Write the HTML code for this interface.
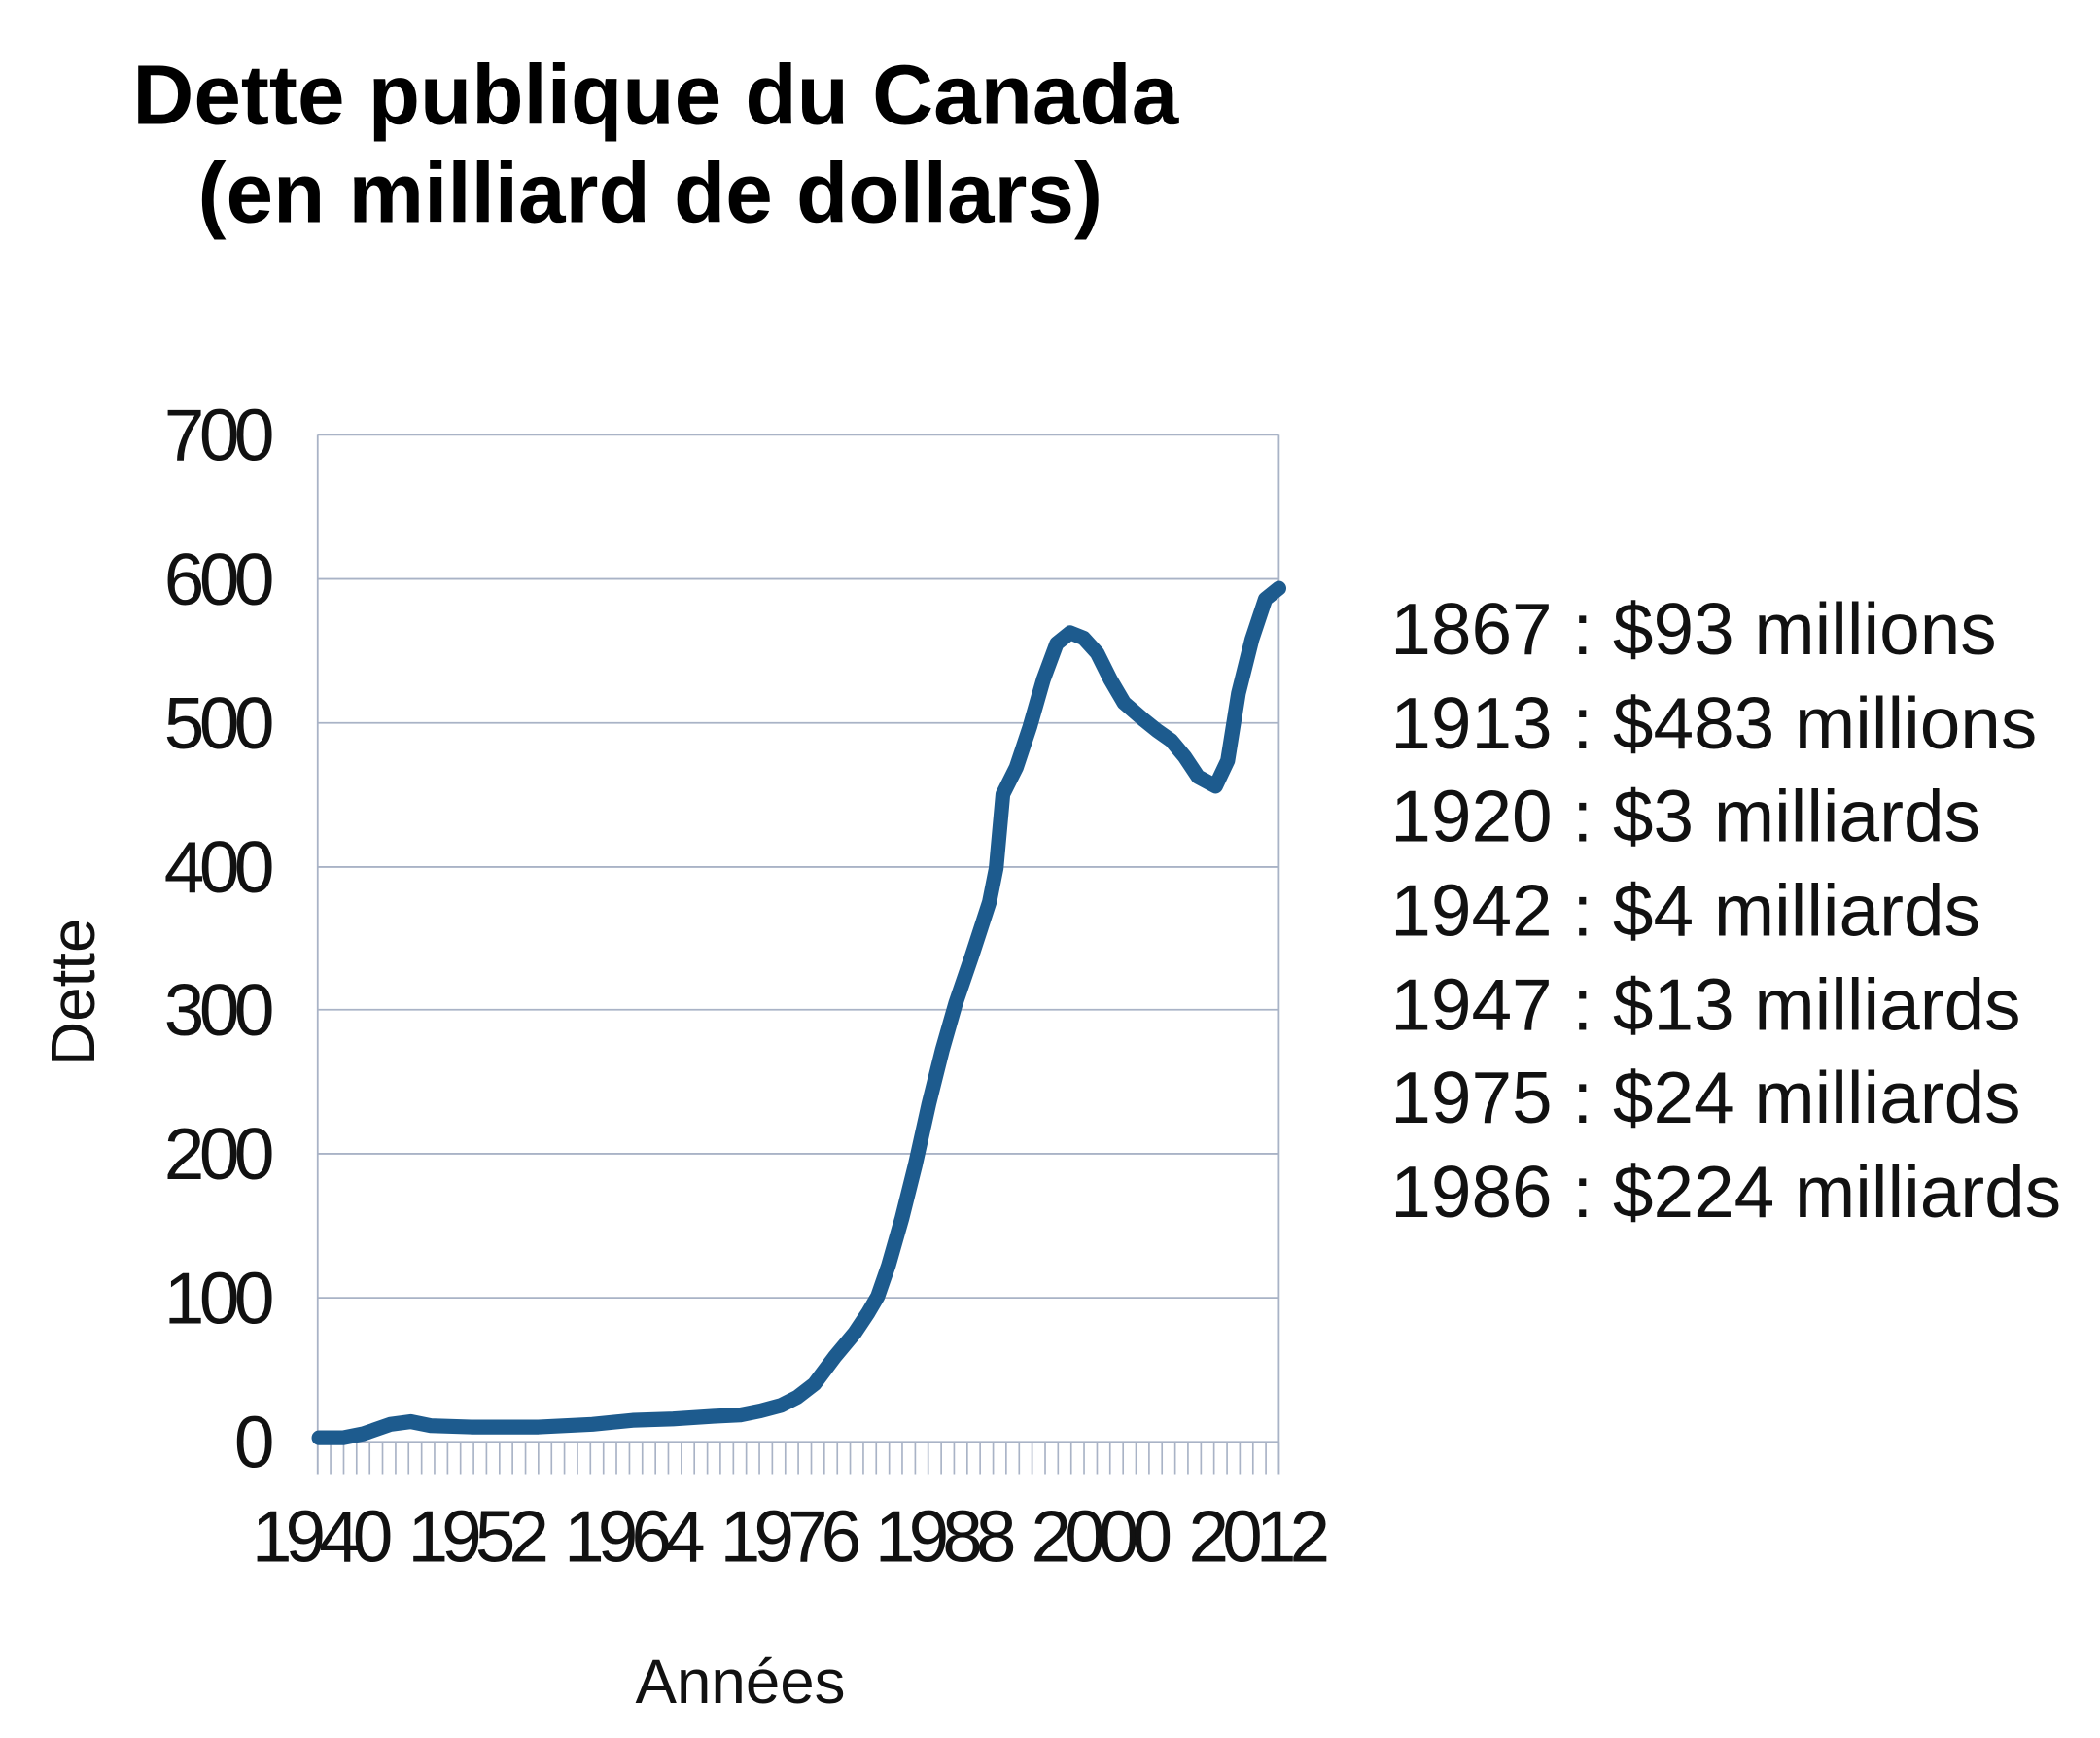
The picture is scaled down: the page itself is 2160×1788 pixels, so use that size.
<!DOCTYPE html>
<html><head><meta charset="utf-8"><style>html,body{margin:0;padding:0;background:#fff}svg{display:block}</style></head><body>
<svg width="2160" height="1788" viewBox="0 0 1560 1291" preserveAspectRatio="none" xmlns="http://www.w3.org/2000/svg" font-family="Liberation Sans, sans-serif">
<rect width="1560" height="1291" fill="#fff"/>
<text x="487" y="92" font-size="63" font-weight="bold" text-anchor="middle" fill="#000">Dette publique du Canada</text>
<text x="483" y="165" font-size="63" font-weight="bold" text-anchor="middle" fill="#000">(en milliard de dollars)</text>
<g stroke="#a9b3c6" stroke-width="1.3">
<line x1="236" y1="323" x2="950" y2="323"/><line x1="236" y1="430" x2="950" y2="430"/><line x1="236" y1="537" x2="950" y2="537"/><line x1="236" y1="644" x2="950" y2="644"/><line x1="236" y1="750" x2="950" y2="750"/><line x1="236" y1="857" x2="950" y2="857"/><line x1="236" y1="964" x2="950" y2="964"/><line x1="236" y1="1071" x2="950" y2="1071"/>
<line x1="236" y1="323" x2="236" y2="1095"/><line x1="950" y1="323" x2="950" y2="1095"/>
</g>
<path stroke="#a9b3c6" stroke-width="1.2" d="M236 1071V1095M245.6 1071V1095M255.3 1071V1095M264.9 1071V1095M274.6 1071V1095M284.2 1071V1095M293.9 1071V1095M303.5 1071V1095M313.2 1071V1095M322.8 1071V1095M332.5 1071V1095M342.1 1071V1095M351.8 1071V1095M361.4 1071V1095M371.1 1071V1095M380.7 1071V1095M390.4 1071V1095M400 1071V1095M409.7 1071V1095M419.3 1071V1095M429 1071V1095M438.6 1071V1095M448.3 1071V1095M457.9 1071V1095M467.6 1071V1095M477.2 1071V1095M486.9 1071V1095M496.5 1071V1095M506.2 1071V1095M515.8 1071V1095M525.5 1071V1095M535.1 1071V1095M544.8 1071V1095M554.4 1071V1095M564.1 1071V1095M573.7 1071V1095M583.4 1071V1095M593 1071V1095M602.7 1071V1095M612.3 1071V1095M622 1071V1095M631.6 1071V1095M641.3 1071V1095M650.9 1071V1095M660.6 1071V1095M670.2 1071V1095M679.9 1071V1095M689.5 1071V1095M699.2 1071V1095M708.8 1071V1095M718.5 1071V1095M728.1 1071V1095M737.8 1071V1095M747.4 1071V1095M757.1 1071V1095M766.7 1071V1095M776.4 1071V1095M786 1071V1095M795.7 1071V1095M805.3 1071V1095M815 1071V1095M824.6 1071V1095M834.3 1071V1095M843.9 1071V1095M853.6 1071V1095M863.2 1071V1095M872.9 1071V1095M882.5 1071V1095M892.2 1071V1095M901.8 1071V1095M911.5 1071V1095M921.1 1071V1095M930.8 1071V1095M940.4 1071V1095M950 1071V1095"/>
<g font-size="54" text-anchor="end" fill="#111" letter-spacing="-4">
<text x="200" y="342">700</text><text x="200" y="449">600</text><text x="200" y="556">500</text><text x="200" y="663">400</text><text x="200" y="769">300</text><text x="200" y="876">200</text><text x="200" y="983">100</text><text x="200" y="1090">0</text>
</g>
<g font-size="54" text-anchor="middle" fill="#111" letter-spacing="-5">
<text x="237" y="1160">1940</text><text x="353" y="1160">1952</text><text x="469" y="1160">1964</text><text x="585" y="1160">1976</text><text x="700" y="1160">1988</text><text x="816" y="1160">2000</text><text x="933" y="1160">2012</text>
</g>
<text x="550" y="1265" font-size="46" text-anchor="middle" fill="#111">Années</text>
<text transform="translate(70,737) rotate(-90)" font-size="46" text-anchor="middle" fill="#111">Dette</text>
<g font-size="54" fill="#111">
<text x="1033" y="486">1867 : $93 millions</text>
<text x="1033" y="556">1913 : $483 millions</text>
<text x="1033" y="625">1920 : $3 milliards</text>
<text x="1033" y="695">1942 : $4 milliards</text>
<text x="1033" y="765">1947 : $13 milliards</text>
<text x="1033" y="834">1975 : $24 milliards</text>
<text x="1033" y="904">1986 : $224 milliards</text>
</g>
<polyline fill="none" stroke="#1d5b8e" stroke-width="11" stroke-linejoin="round" stroke-linecap="round" points="237,1068 255,1068 270,1065 290,1058 305,1056 320,1059 350,1060 400,1060 440,1058 470,1055 500,1054 530,1052 550,1051 565,1048 580,1044 592,1038 605,1028 620,1008 635,990 645,975 652,963 660,940 670,905 680,865 690,820 700,780 710,745 722,710 735,670 740,645 745,590 755,570 765,540 775,505 785,478 795,470 805,474 815,485 825,505 835,522 850,535 860,543 870,550 880,562 890,577 903,584 912,565 920,515 930,475 940,445 950,437"/>
</svg>
</body></html>
